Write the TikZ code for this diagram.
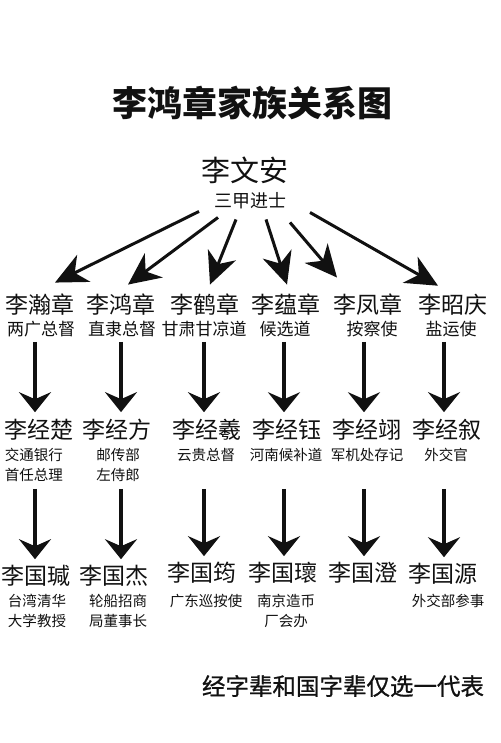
\documentclass[tikz,border=0pt]{standalone}
\usepackage{fontspec}
\usetikzlibrary{arrows.meta, positioning, calc}
\newfontfamily\cjk{Noto Sans CJK SC}
\newfontfamily\cjkmid[FakeBold=0.9]{Noto Sans CJK SC}
\definecolor{inkblack}{HTML}{111111}
\newcommand{\member}[3]{%
  \node[kinname] (#1) at (#2) {#3};}
\newcommand{\post}[4]{%
  \node[#1] (#2) at (#3) {#4};}

\begin{document}
\begin{tikzpicture}[x=1pt, y=-1pt, inner sep=0pt, text=inkblack,
    kinname/.style={font=\cjk\fontsize{23}{26}\selectfont},
    kinpost/.style={font=\cjk\fontsize{17}{20}\selectfont},
    smallpost/.style={font=\cjk\fontsize{14.5}{20}\selectfont, align=center},
    fanarrow/.style={-{Stealth[length=32pt, width=30pt, inset=10pt]},
      line width=3pt, draw=inkblack},
    downarrow/.style={-{Stealth[length=20pt, width=32pt, inset=7pt]},
      line width=3.2pt, draw=inkblack}]
  \fill[white] (0,0) rectangle (500,743);
  \useasboundingbox (0,0) rectangle (500,743);

  % title and root
  \node[font=\cjk\bfseries\fontsize{35}{40}\selectfont] (title) at (252,103)
    {李鸿章家族关系图};
  \node[font=\cjk\fontsize{29}{32}\selectfont] (root) at (245,170) {李文安};
  \node[font=\cjk\fontsize{18}{20}\selectfont] (rootpost) at (250,201) {三甲进士};

  % sons
  \member{son1}{40,305}{李瀚章}
  \member{son2}{121,305}{李鸿章}
  \member{son3}{205,305}{李鹤章}
  \member{son4}{286,305}{李蕴章}
  \member{son5}{368,305}{李凤章}
  \member{son6}{453,305}{李昭庆}
  \post{kinpost}{sonpost1}{41,329}{两广总督}
  \post{kinpost}{sonpost2}{122,329}{直隶总督}
  \post{kinpost}{sonpost3}{204,329}{甘肃甘凉道}
  \post{kinpost}{sonpost4}{285,329}{候选道}
  \post{kinpost}{sonpost5}{372,329}{按察使}
  \post{kinpost}{sonpost6}{451,329}{盐运使}

  % grandsons
  \member{grand1}{39,430}{李经楚}
  \member{grand2}{117,430}{李经方}
  \member{grand3}{207,430}{李经羲}
  \member{grand4}{287,430}{李经钰}
  \member{grand5}{367,430}{李经翊}
  \member{grand6}{447,430}{李经叙}
  \post{smallpost}{grandpost1}{34,464.5}{交通银行\\首任总理}
  \post{smallpost}{grandpost2}{118,464.5}{邮传部\\左侍郎}
  \post{smallpost}{grandpost3}{206,455}{云贵总督}
  \post{smallpost}{grandpost4}{286,455}{河南候补道}
  \post{smallpost}{grandpost5}{367,455}{军机处存记}
  \post{smallpost}{grandpost6}{446,455}{外交官}

  % great-grandsons
  \member{great1}{36,576}{李国瑊}
  \member{great2}{114,576}{李国杰}
  \member{great3}{202,573}{李国筠}
  \member{great4}{283,573}{李国瓌}
  \member{great5}{363,573}{李国澄}
  \member{great6}{443,574}{李国源}
  \post{smallpost}{greatpost1}{37,611}{台湾清华\\大学教授}
  \post{smallpost}{greatpost2}{118,611}{轮船招商\\局董事长}
  \post{smallpost}{greatpost3}{206,601}{广东巡按使}
  \post{smallpost}{greatpost4}{286,611}{南京造币\\厂会办}
  \post{smallpost}{greatpost6}{448,601}{外交部参事}

  \node[font=\cjkmid\fontsize{23.5}{26}\selectfont] (note) at (343,686)
    {经字辈和国字辈仅选一代表};

  % fan of arrows from the root
  \draw[fanarrow] ($(rootpost.south)+(-51,2)$) -- ($(son1.north)+(15,-11.5)$);
  \draw[fanarrow] ($(rootpost.south)+(-32,8)$) -- ($(son2.north)+(7,-9.5)$);
  \draw[fanarrow] ($(rootpost.south)+(-14,10)$) -- ($(son3.north)+(5,-9.5)$);
  \draw[fanarrow] ($(rootpost.south)+(16,10)$) -- ($(son4.north)+(1,-9.5)$);
  \draw[fanarrow] ($(rootpost.south)+(40,13)$) -- ($(son5.north)+(-31,-16.5)$);
  \draw[fanarrow] ($(rootpost.south)+(60,3)$) -- ($(son6.north)+(-15,-8.5)$);

  % generation arrows
  \foreach \k/\cx in {1/35, 2/121, 3/204, 4/284, 5/364, 6/444}
    \coordinate (col\k) at (\cx,0);
  \foreach \k in {1,...,6} {
    \draw[downarrow] ([yshift=-26pt]son\k.south -| col\k)
      -- ([yshift=7pt]grand\k.north -| col\k);
    \draw[downarrow] ([yshift=-48pt]grand\k.south -| col\k)
      -- ([yshift=6pt]great\k.north -| col\k);
  }
\end{tikzpicture}
\end{document}
